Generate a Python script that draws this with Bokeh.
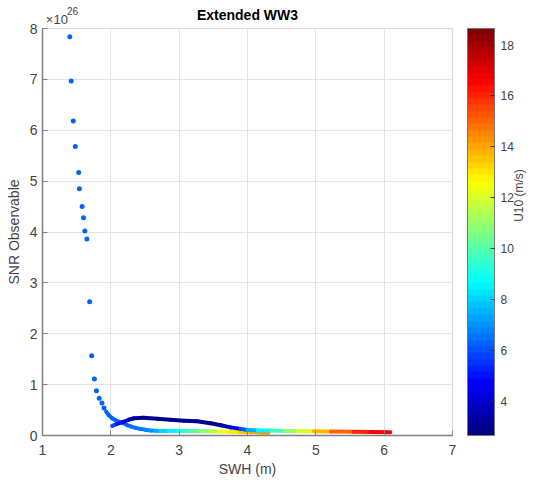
import numpy as np
from bokeh.plotting import figure
from bokeh.models import (ColumnDataSource, ColorBar, LinearColorMapper,
                          FixedTicker, LinearAxis, Range1d)
from bokeh.transform import linear_cmap
from bokeh.embed import file_html
from bokeh.resources import INLINE

# ---------------- data ----------------
# sparse dots at small SWH (SNR in units of 1e26)
a_swh = [1.40, 1.42, 1.45, 1.48, 1.53, 1.54, 1.58, 1.60, 1.62, 1.65,
         1.69, 1.72, 1.76, 1.79, 1.83, 1.87, 1.90]
a_snr = [7.84, 6.97, 6.18, 5.68, 5.17, 4.85, 4.50, 4.28, 4.02, 3.86,
         2.63, 1.57, 1.11, 0.88, 0.73, 0.64, 0.54]
a_u10 = [6.2] * 17

# lower dense branch
b_swh = [1.93, 1.97, 2.02, 2.07, 2.12, 2.17, 2.23, 2.29, 2.36, 2.43,
         2.50, 2.58, 2.66, 2.73, 2.85, 3.00, 3.15, 3.30, 3.45, 3.60,
         3.75, 3.90, 4.05, 4.20, 4.31]
b_snr = [0.47, 0.40, 0.34, 0.30, 0.27, 0.25, 0.21, 0.18, 0.15, 0.13,
         0.115, 0.10, 0.095, 0.09, 0.09, 0.09, 0.09, 0.09, 0.085, 0.08,
         0.075, 0.07, 0.065, 0.06, 0.055]
b_u10 = [6.2, 6.2, 6.2, 6.2, 6.2, 6.2, 6.3, 6.4, 6.5, 6.6,
         6.8, 7.1, 7.5, 8.0, 8.6, 9.3, 10.0, 10.8, 11.6, 12.3,
         13.0, 13.5, 13.9, 14.2, 14.5]

# upper branch (hump + long tail)
c_swh = [2.02, 2.09, 2.19, 2.26, 2.34, 2.48, 2.68, 2.87, 3.07, 3.26,
         3.46, 3.61, 3.75, 3.90, 4.00, 4.15, 4.34, 4.55, 4.73, 4.97,
         5.22, 5.55, 5.80, 6.09]
c_snr = [0.19, 0.23, 0.27, 0.31, 0.34, 0.35, 0.33, 0.31, 0.29, 0.28,
         0.24, 0.20, 0.16, 0.13, 0.11, 0.10, 0.10, 0.09, 0.09, 0.085,
         0.08, 0.075, 0.07, 0.065]
c_u10 = [5.8, 5.0, 4.2, 3.4, 3.0, 2.9, 2.9, 2.9, 2.9, 3.0,
         3.1, 3.5, 4.5, 6.0, 7.5, 8.5, 9.8, 11.0, 12.0, 13.8,
         15.0, 16.0, 16.5, 17.0]

x_ticks = [1, 2, 3, 4, 5, 6, 7]
y_ticks = [0, 1, 2, 3, 4, 5, 6, 7, 8]
cb_ticks = [4, 6, 8, 10, 12, 14, 16, 18]
u_low, u_high = 2.65, 18.65

title_text = "Extended WW3"
exp_base = "×10"
exp_power = "26"
cb_label = "U10 (m/s)"

FONT = "Liberation Sans"
TXT = "#444444"


def jet(n):
    t = np.linspace(0, 1, n)
    r = np.clip(1.5 - np.abs(4 * t - 3), 0, 1)
    g = np.clip(1.5 - np.abs(4 * t - 2), 0, 1)
    b = np.clip(1.5 - np.abs(4 * t - 1), 0, 1)
    return ["#%02x%02x%02x" % (int(round(rr * 255)), int(round(gg * 255)), int(round(bb * 255)))
            for rr, gg, bb in zip(r, g, b)]


palette = jet(64)
mapper = LinearColorMapper(palette=palette, low=u_low, high=u_high)

p = figure(width=536, height=484, x_range=Range1d(1, 7), y_range=Range1d(0, 8),
           output_backend="svg", toolbar_location=None,
           min_border_left=42, min_border_right=84, min_border_top=28,
           min_border_bottom=49)
p.background_fill_color = "white"
p.border_fill_color = "white"
p.outline_line_color = "#d9d9d9"

for ax in (p.xaxis, p.yaxis):
    ax.major_tick_in = 5
    ax.major_tick_out = 0
    ax.minor_tick_line_color = None
    ax.axis_line_color = "#808080"
    ax.axis_line_width = 1.5
    ax.major_tick_line_color = "#808080"
    ax.major_label_text_font = FONT
    ax.major_label_text_font_size = "14px"
    ax.major_label_text_color = TXT
    ax.axis_label_text_font = FONT
    ax.axis_label_text_font_size = "14px"
    ax.axis_label_text_font_style = "normal"
    ax.axis_label_text_color = TXT

p.xaxis.ticker = FixedTicker(ticks=x_ticks)
p.yaxis.ticker = FixedTicker(ticks=y_ticks)
p.xaxis.axis_label = "SWH (m)"
p.yaxis.axis_label = "SNR Observable"
p.xaxis.major_label_standoff = 9
p.yaxis.major_label_standoff = 5
p.xaxis.axis_label_standoff = 3
p.yaxis.axis_label_standoff = 5

p.xgrid.grid_line_color = "#e3e3e3"
p.ygrid.grid_line_color = "#e3e3e3"

# top: exponent "x10" (tick label), superscript "26" (tick label of a second
# axis pulled down), and the title as that second axis' label
hidden = dict(axis_line_color=None, major_tick_line_color=None, major_tick_in=0,
              major_tick_out=0, minor_tick_line_color=None)
top1 = LinearAxis(ticker=FixedTicker(ticks=[1.21]), major_label_overrides={1.21: exp_base},
                  major_label_standoff=2, major_label_text_font=FONT,
                  major_label_text_font_size="13px", major_label_text_color=TXT, **hidden)
p.add_layout(top1, "above")
top2 = LinearAxis(ticker=FixedTicker(ticks=[1.44]), major_label_overrides={1.44: exp_power},
                  major_label_standoff=-6, major_label_text_font=FONT,
                  major_label_text_font_size="10px", major_label_text_color=TXT,
                  axis_label=title_text, axis_label_standoff=-19,
                  axis_label_text_font=FONT, axis_label_text_font_size="14px",
                  axis_label_text_font_style="bold", axis_label_text_color="#000000",
                  **hidden)
p.add_layout(top2, "above")


def seg_source(xs, ys, us):
    xs, ys, us = np.asarray(xs), np.asarray(ys), np.asarray(us)
    return ColumnDataSource(dict(x0=xs[:-1], y0=ys[:-1], x1=xs[1:], y1=ys[1:], u=us[:-1]))


cmap = linear_cmap("u", palette, u_low, u_high)

for xs, ys, us in ((b_swh, b_snr, b_u10), (c_swh, c_snr, c_u10)):
    p.segment("x0", "y0", "x1", "y1", source=seg_source(xs, ys, us),
              line_color=cmap, line_width=4, line_cap="round")

src_a = ColumnDataSource(dict(x=a_swh, y=a_snr, u=a_u10))
p.scatter("x", "y", source=src_a, size=5, fill_color=cmap, line_color=None)

# right side: spacer, colour bar, colour bar label
spacer = LinearAxis(ticker=FixedTicker(ticks=[4]), major_label_overrides={4: ""},
                    axis_line_color=None, major_tick_line_color=None, major_tick_in=0,
                    major_tick_out=15, minor_tick_line_color=None,
                    major_label_standoff=0, major_label_text_font_size="1px")
p.add_layout(spacer, "right")

cb = ColorBar(color_mapper=mapper, ticker=FixedTicker(ticks=cb_ticks), width=27,
              padding=0, margin=0, major_tick_in=4, major_tick_out=0,
              major_tick_line_color="#333333", bar_line_color="#777777",
              label_standoff=6, major_label_text_font=FONT,
              major_label_text_font_size="12px", major_label_text_color=TXT,
              minor_tick_line_color=None, background_fill_alpha=0)
p.add_layout(cb, "right")

cb_axis = LinearAxis(ticker=FixedTicker(ticks=[4.2]), major_label_overrides={4.2: cb_label},
                     major_label_orientation=np.pi / 2, major_label_standoff=3,
                     major_label_text_font=FONT, major_label_text_font_size="12px",
                     major_label_text_line_height=0.8,
                     major_label_text_color=TXT, **hidden)
p.add_layout(cb_axis, "right")

open("out.html", "w").write(file_html(p, INLINE))
